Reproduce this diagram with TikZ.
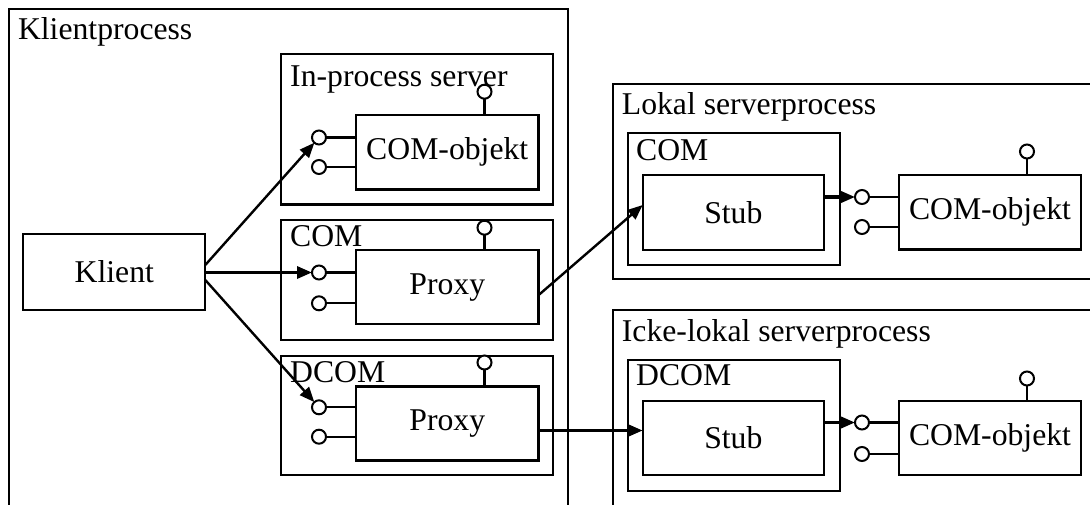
\documentclass[tikz,border=0pt]{standalone}
\usepackage{fontspec}
\setmainfont{Liberation Serif}
\usetikzlibrary{arrows.meta}
\tikzset{
  txt/.style={font=\fontsize{31.7}{36}\selectfont},
  box/.style={draw, line width=2.1pt, inner sep=0pt, outer sep=0pt, anchor=north west, txt},
  lbl/.style={inner sep=0pt, anchor=base west, txt},
  ball/.style={circle, draw, line width=2pt, fill=white, minimum size=14pt, inner sep=0pt, outer sep=0pt},
  stem/.style={line width=2.1pt},
  arr/.style={line width=2.4pt, -{Triangle[length=15pt,width=12pt]}},
  arrthick/.style={arr, line width=3.2pt},
}
\begin{document}
\begin{tikzpicture}[x=1pt,y=-1pt]
\clip (0,0) rectangle (1090,504);
\fill[white] (0,0) rectangle (1090,504);

% client process and its contents
\node[box, minimum width=559pt, minimum height=540pt] (kp) at (9,9) {};
\node[lbl] (kpl) at (17.8,39.3) {Klientprocess};
\node[box, minimum width=182pt, minimum height=76pt] (klient) at (23.3,234) {Klient};

\node[box, minimum width=272.3pt, minimum height=150.5pt] (inproc) at (280.7,54) {};
\node[lbl] (inprocl) at (290,86) {In-process server};
\node[box, minimum width=182.5pt, minimum height=74.5pt] (obj) at (356,115) {COM-objekt};

\node[box, minimum width=272.3pt, minimum height=120pt] (com) at (280.7,220) {};
\node[lbl] (coml) at (290,246.7) {COM};
\node[box, minimum width=182.5pt, minimum height=74.3pt] (proxya) at (356,250) {Proxy};

\node[box, minimum width=272.3pt, minimum height=119pt] (dcom) at (280.7,356) {};
\node[lbl] (dcoml) at (290,382) {DCOM};
\node[box, minimum width=182.5pt, minimum height=74pt] (proxyb) at (356,386.5) {Proxy};

% local server process
\node[box, minimum width=500pt, minimum height=195.3pt] (lsp) at (612.7,84) {};
\node[lbl] (lspl) at (621.7,114) {Lokal serverprocess};
\node[box, minimum width=212pt, minimum height=131.7pt] (comr) at (628,133) {};
\node[lbl] (comrl) at (636,160) {COM};
\node[box, minimum width=181.3pt, minimum height=75pt] (stuba) at (642.7,175) {Stub};
\node[box, minimum width=182pt, minimum height=74.5pt] (obja) at (899,175) {COM-objekt};

% remote server process
\node[box, minimum width=500pt, minimum height=240pt] (rsp) at (612.7,310) {};
\node[lbl] (rspl) at (621.7,341.7) {Icke-lokal serverprocess};
\node[box, minimum width=212pt, minimum height=131pt] (dcomr) at (628,360) {};
\node[lbl] (dcomrl) at (636,385) {DCOM};
\node[box, minimum width=181.3pt, minimum height=74pt] (stubb) at (642.7,401) {Stub};
\node[box, minimum width=182pt, minimum height=74pt] (objb) at (899,401) {COM-objekt};

% interface lollipops
\node[ball] (o1) at (319,137.5) {};
\node[ball] (o2) at (319,167) {};
\node[ball] (o3) at (484.5,91.7) {};
\node[ball] (p1) at (319,272.5) {};
\node[ball] (p2) at (319,303.3) {};
\node[ball] (p3) at (484.5,227.7) {};
\node[ball] (q1) at (319,407.3) {};
\node[ball] (q2) at (319,436.7) {};
\node[ball] (q3) at (484.5,362.5) {};
\node[ball] (r1) at (862,197) {};
\node[ball] (r2) at (862,227) {};
\node[ball] (r3) at (1027,151.5) {};
\node[ball] (s1) at (862,422.5) {};
\node[ball] (s2) at (862,454) {};
\node[ball] (s3) at (1027,378.5) {};

\draw[stem] (o1) -- (o1 -| obj.west);
\draw[stem] (o2) -- (o2 -| obj.west);
\draw[stem] (o3) -- (o3 |- obj.north);
\draw[stem] (p1) -- (p1 -| proxya.west);
\draw[stem] (p2) -- (p2 -| proxya.west);
\draw[stem] (p3) -- (p3 |- proxya.north);
\draw[stem] (q1) -- (q1 -| proxyb.west);
\draw[stem] (q2) -- (q2 -| proxyb.west);
\draw[stem] (q3) -- (q3 |- proxyb.north);
\draw[stem] (r1) -- (r1 -| obja.west);
\draw[stem] (r2) -- (r2 -| obja.west);
\draw[stem] (r3) -- (r3 |- obja.north);
\draw[stem] (s1) -- (s1 -| objb.west);
\draw[stem] (s2) -- (s2 -| objb.west);
\draw[stem] (s3) -- (s3 |- objb.north);

% calls
\draw[arr] ([yshift=7pt]klient.east) -- (o1);
\draw[arrthick] (klient.east |- p1) -- (p1);
\draw[arr] ([yshift=-8pt]klient.east) -- (q1);
\draw[arr] ([yshift=-8pt]proxya.east) -- ([yshift=7.5pt]stuba.west);
\draw[arrthick] ([yshift=-7pt]proxyb.east) -- ([yshift=-7pt]proxyb.east -| stubb.west);
\draw[arrthick] (stuba.east |- r1) -- (r1);
\draw[arrthick] (stubb.east |- s1) -- (s1);
\end{tikzpicture}
\end{document}
